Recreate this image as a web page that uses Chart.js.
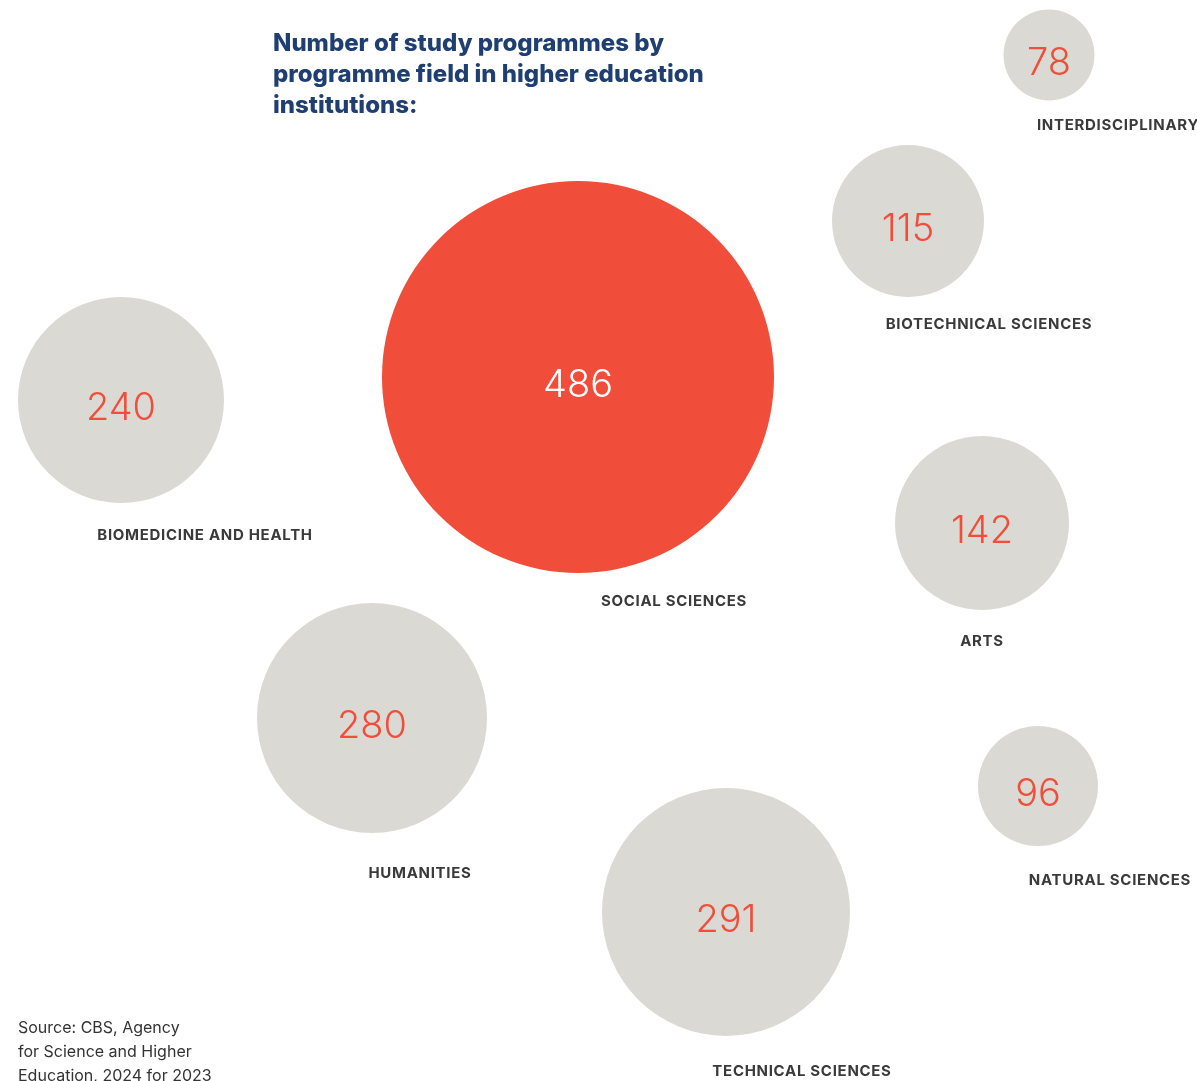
<!DOCTYPE html>
<html>
<head>
<meta charset="utf-8">
<script src="https://cdn.jsdelivr.net/npm/chart.js@4.4.0/dist/chart.umd.min.js"></script>
<style>
  body { margin: 0; background: #fff; }
  .wrap { position: relative; width: 1197px; height: 1081px; overflow: hidden; }
  .titulo {
    position: absolute; left: 273px; top: 27px; margin: 0;
    font: 800 24px "Inter", "Open Sans", sans-serif; line-height: 31px;
    color: #1f3f73; letter-spacing: 0px;
  }
  .fuente {
    position: absolute; left: 18px; top: 1015px; margin: 0;
    font: 400 16px "Inter", "Open Sans", sans-serif; line-height: 24px; color: #333;
  }
</style>
</head>
<body>
<div class="wrap">
  <canvas id="grafica" width="1197" height="1081"></canvas>
  <h2 class="titulo">Number of study programmes by<br>programme field in higher education<br>institutions:</h2>
  <p class="fuente">Source: CBS, Agency<br>for Science and Higher<br>Education, 2024 for 2023</p>
</div>
<script>
// datos
const campos = ["INTERDISCIPLINARY", "BIOTECHNICAL SCIENCES", "SOCIAL SCIENCES", "BIOMEDICINE AND HEALTH",
  "ARTS", "HUMANITIES", "NATURAL SCIENCES", "TECHNICAL SCIENCES"];
const programas = [78, 115, 486, 240, 142, 280, 96, 291];

// layout (posicion en la escala oculta, radio en px, desplazamiento de la etiqueta)
const centroX = [1049, 908, 578, 121, 982, 372, 1038, 726];
const centroY = [55, 221, 377, 400, 523, 718, 786, 912];
const radio = [45.5, 76, 196, 103, 87, 115, 60, 124];
const etiquetaDX = [69, 81, 96, 84, 0, 48, 72, 76];
const etiquetaDY = [70, 103, 224, 135, 118, 155, 94, 159];

const ROJO = "#f04e3a";
const GRIS = "#dad9d4";
const maximo = Math.max(...programas);

const textosBurbujas = {
  id: "textosBurbujas",
  afterDatasetsDraw(chart) {
    const ctx = chart.ctx;
    const meta = chart.getDatasetMeta(0);
    ctx.save();
    ctx.textAlign = "center";
    ctx.textBaseline = "middle";
    meta.data.forEach((el, i) => {
      const v = programas[i];
      ctx.fillStyle = v === maximo ? "#ffffff" : ROJO;
      ctx.font = '300 38px "Inter", "Open Sans", sans-serif';
      ctx.fillText(String(v), el.x, el.y + 9);

      ctx.fillStyle = "#3a3a3a";
      ctx.font = '700 15px "Inter", "Open Sans", sans-serif';
      if (ctx.letterSpacing !== undefined) ctx.letterSpacing = "0.7px";
      ctx.fillText(campos[i], el.x + etiquetaDX[i], el.y + etiquetaDY[i]);
      if (ctx.letterSpacing !== undefined) ctx.letterSpacing = "0px";
    });
    ctx.restore();
  }
};

new Chart(document.getElementById("grafica"), {
  type: "bubble",
  data: {
    labels: campos,
    datasets: [{
      data: programas.map((v, i) => ({ x: centroX[i], y: centroY[i], r: radio[i], v })),
      backgroundColor: programas.map(v => v === maximo ? "#f04e3a" : GRIS),
      borderWidth: 0,
      hoverRadius: 0,
      clip: false
    }]
  },
  options: {
    responsive: false,
    animation: false,
    layout: { padding: 0, autoPadding: false },
    plugins: {
      legend: { display: false },
      tooltip: { enabled: false },
      title: { display: false }
    },
    scales: {
      x: { display: false, min: 0, max: 1197 },
      y: { display: false, min: 0, max: 1081, reverse: true }
    }
  },
  plugins: [textosBurbujas]
});
</script>
</body>
</html>
